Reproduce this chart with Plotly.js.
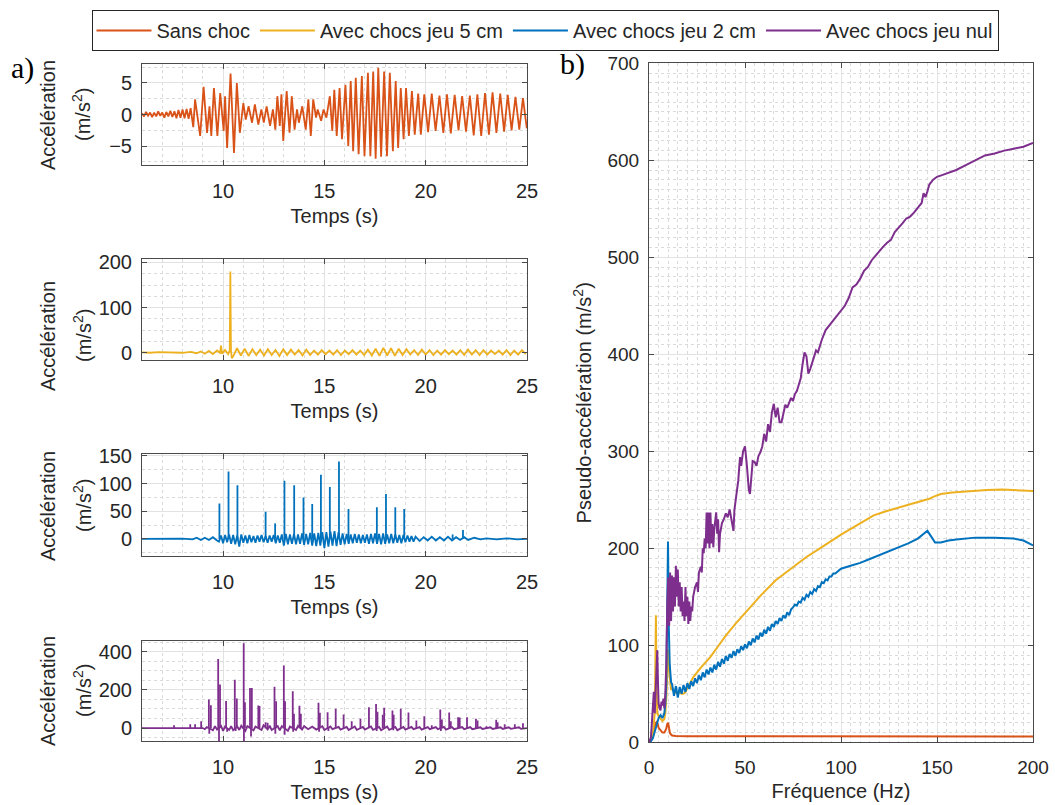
<!DOCTYPE html>
<html><head><meta charset="utf-8">
<script src="https://cdn.plot.ly/plotly-3.0.1.min.js"></script>
<style>html,body{margin:0;padding:0;background:#fff}#chart{width:1055px;height:805px}</style>
</head><body><div id="chart"></div>
<script>
// ---------- legend names / colours ----------
const seriesNames = ['Sans choc','Avec chocs jeu 5 cm','Avec chocs jeu 2 cm','Avec chocs jeu nul'];
const seriesColors = ['#D95319','#EDB120','#0072BD','#7E2F8E'];

// ---------- a) time series, Sans choc ----------
const sansT = [6.0,6.1,6.2,6.3,6.4,6.5,6.6,6.7,6.8,6.9,7.0,7.1,7.2,7.3,7.4,7.5,7.6,7.7,7.8,7.9,8.0,8.1,8.2,8.3,8.4,
 8.53,8.62,8.87,9.04,9.21,9.33,9.42,9.55,9.72,9.86,10.03,10.10,10.20,10.37,10.54,10.68,10.83,11.00,11.12,11.26,
 11.43,11.57,11.74,11.89,12.01,12.15,12.32,12.46,12.58,12.68,12.80,12.88,12.97,13.14,13.28,13.39,13.53,13.65,13.74,13.91,
 14.08,14.21,14.33,14.45,14.59,14.67,14.84,14.96,15.10,15.27,15.39,15.49,15.61,15.75,15.87,16.04,16.18,16.30,16.42,16.55,
 16.69,16.85,16.98,17.15,17.27,17.41,17.53,17.66,17.80,17.95,18.09,18.23,18.38,18.52,18.64,18.77,18.91,19.03,19.17,19.32,
 19.46,19.63,19.76,19.93,20.12,20.30,20.49,20.68,20.87,21.05,21.24,21.43,21.62,21.80,21.99,22.18,22.37,22.55,22.74,22.93,
 23.12,23.30,23.49,23.68,23.87,24.05,24.24,24.43,24.62,24.80,24.99];
const sansV = [0.2,-0.3,0.4,-0.2,0.3,-0.4,0.3,-0.3,0.5,-0.2,0.3,-0.5,0.4,-0.3,0.6,-0.4,0.5,-0.6,0.7,-0.5,0.8,-0.6,0.9,-0.7,1.0,
 -2.0,2.4,-3.4,4.4,-2.9,1.3,-3.4,4.2,-3.4,3.4,-2.6,2.9,-5.3,6.5,-6.1,5.0,-2.9,1.8,-0.8,1.3,
 -1.3,1.6,-1.6,0.8,-1.3,1.3,-1.8,0.8,-2.4,2.9,-1.8,3.2,-4.2,3.7,-2.9,2.9,-2.4,0.8,-1.3,1.3,
 -2.4,2.4,-3.4,2.4,-0.5,0.8,-1.0,0.8,-0.5,2.9,-2.6,3.9,-3.4,4.2,-3.9,4.7,-5.0,5.3,-5.8,5.8,
 -6.3,6.1,-6.6,6.6,-6.6,6.8,-7.0,7.4,-6.7,6.8,-6.6,6.6,-5.8,5.3,-5.3,4.2,-3.9,4.2,-3.4,3.7,
 -3.2,3.3,-3.2,3.2,-2.8,3.3,-2.6,3.0,-2.9,3.2,-3.0,3.1,-2.5,2.9,-2.7,3.0,-3.3,3.2,-3.4,3.4,
 -3.2,3.5,-2.9,3.3,-2.7,3.1,-2.5,2.8,-2.4,2.6,-2.2];

// ---------- a) time series, jeu 5 cm ----------
const j5T = [6.0,6.4,6.8,7.2,7.6,8.0,8.4,8.7,8.9,9.1,9.3,9.5,9.7,9.85,9.9,9.95,10.1,10.25,10.33,10.36,10.39,10.43,
 10.50,10.69,10.88,11.07,11.26,11.45,11.64,11.83,12.02,12.21,
 12.40,12.59,12.78,12.97,13.16,13.35,13.54,13.73,13.92,14.11,
 14.30,14.49,14.68,14.87,15.06,15.25,15.44,15.63,15.82,16.01,
 16.20,16.39,16.58,16.77,16.96,17.15,17.34,17.53,17.72,17.91,
 18.10,18.29,18.48,18.67,18.86,19.05,19.24,19.43,19.62,19.81,
 20.00,20.19,20.38,20.57,20.76,20.95,21.14,21.33,21.52,21.71,
 21.90,22.09,22.28,22.47,22.66,22.85,23.04,23.23,23.42,23.61,
 23.80,23.99,24.18,24.37,24.56,24.75,24.94];
const j5V = [1,0,1.5,0.5,1,0,2,-1,3,-2,4,-3,5,0,16,-2,6,-3,5,180,5,-12,
 -8,10,-6,9,-7,8,-5,7,-6,8,
 -5,6,-7,8,-5,7,-4,6,-6,7,
 -5,5,-4,6,-3,5,-4,6,-5,5,
 -3,6,-4,5,-5,7,-6,9,-7,11,
 -6,10,-7,9,-5,8,-4,6,-5,7,
 -4,6,-5,5,-4,6,-3,5,-4,6,
 -5,7,-4,6,-5,6,-4,5,-3,5,
 -4,6,-5,5,-4,6,-3];

// ---------- a) time series, jeu 2 cm ----------
const j2T = [6.0,7.0,8.0,8.5,8.7,8.9,9.1,9.3,9.5,9.7,
 9.8,9.9,10.0,10.1,10.2,10.3,10.4,10.5,10.6,10.7,
 10.8,10.9,11.0,11.1,11.2,11.3,11.4,11.5,11.6,11.7,
 11.8,11.9,12.0,12.1,12.2,12.3,12.4,12.5,12.6,12.7,
 12.8,12.9,13.0,13.1,13.2,13.3,13.4,13.5,13.6,13.7,
 13.8,13.9,14.0,14.1,14.2,14.3,14.4,14.5,14.6,14.7,
 14.8,14.9,15.0,15.1,15.2,15.3,15.4,15.5,15.6,15.7,
 15.8,15.9,16.0,16.1,16.2,16.3,16.4,16.5,16.6,16.7,
 16.8,16.9,17.0,17.1,17.2,17.3,17.4,17.5,17.6,17.7,
 17.8,17.9,18.0,18.1,18.2,18.3,18.4,18.5,18.6,18.7,
 18.8,18.9,19.0,19.1,19.2,19.3,19.4,19.5,19.7,19.9,
 20.1,20.3,20.5,20.7,20.9,21.1,21.3,21.5,21.7,21.9,
 22.1,22.4,22.7,23.0,23.5,24.0,24.5,25.0];
const j2V = [0,0,0.5,-1,2,-2,2,-2,3,-3,
 -5,6,-8,7,-6,8,-9,7,-10,6,
 -14,8,-7,6,-8,7,-6,5,-7,6,
 -5,7,-6,5,-7,6,-5,7,-8,6,
 -7,8,-12,9,-10,8,-9,9,-10,8,
 -9,10,-11,9,-10,11,-12,10,-13,11,
 -12,12,-17,12,-14,13,-12,14,-13,12,
 -11,10,-10,9,-9,8,-8,9,-7,8,
 -8,7,-7,8,-9,9,-8,10,-9,9,
 -10,10,-9,8,-8,9,-8,8,-7,7,
 -8,7,-6,6,-5,5,-5,4,-4,3,
 -3,4,-3,3,-3,4,-3,3,-2,3,
 -2,2,-1,1,-1,1,-1,0];
const j2SpikeT = [9.82,10.27,10.71,12.10,12.57,13.03,13.51,13.97,14.40,14.83,15.27,15.72,16.19,17.59,18.04,18.50,18.94,21.33,21.84];
const j2SpikeV = [64,122,97,49,28,105,97,75,63,116,94,140,54,57,81,57,54,8,16];

// ---------- a) time series, jeu nul ----------
const j0T = [6.0,7.0,7.5,8.0,8.5,9.0,9.1,9.2,9.5,9.6,
 9.7,9.9,10.0,10.1,10.3,10.4,10.5,10.7,10.8,10.9,
 11.1,11.2,11.5,11.6,11.9,12.0,12.2,12.3,12.4,12.7,
 12.8,12.9,13.2,13.3,13.6,13.7,13.9,14.0,14.2,14.4,
 14.6,14.9,15.0,15.3,15.4,15.7,15.8,16.1,16.2,16.5,
 16.6,16.9,17.0,17.3,17.4,17.7,17.8,18.1,18.2,18.5,
 18.6,18.9,19.0,19.3,19.4,19.7,19.8,20.1,20.2,20.5,
 20.6,20.9,21.0,21.3,21.4,21.8,21.9,22.2,22.3,22.7,
 22.8,23.2,23.3,23.7,23.8,24.1,24.2,24.6,24.7,25.0];
const j0V = [0,0,2,0,2,0,-6,5,-12,10,
 -8,12,-15,8,-10,10,-12,8,-10,12,
 -15,10,-12,8,-10,15,-8,12,-10,10,
 -12,10,-15,8,-10,12,-8,10,-6,8,
 -8,10,-10,8,-6,6,-8,6,-10,8,
 -10,6,-8,8,-10,6,-12,8,-10,6,
 -12,6,-8,6,-6,5,-8,5,-6,5,
 -6,6,-8,5,-6,5,-6,5,-6,4,
 -5,4,-5,4,-5,4,-4,4,-4,0];
const j0SpikeT = [7.58,8.38,8.62,8.92,9.30,9.40,9.76,9.85,10.15,10.58,10.68,11.02,11.08,11.33,11.42,11.74,11.80,12.10,12.20,
 12.54,12.62,13.00,13.06,13.44,13.50,13.77,13.84,14.71,14.78,15.16,15.56,15.95,16.35,16.78,17.20,17.55,17.62,17.88,17.95,
 18.36,18.42,18.77,19.15,19.54,19.93,20.30,20.72,20.80,21.16,21.24,21.60,21.68,22.04,22.48,22.56,23.00,23.48,23.55,23.90,24.40,24.80,
 9.32,9.80,10.20,10.62,11.03,11.38,12.58,13.04,13.46,14.74,15.20,17.58,18.40,20.75];
const j0SpikeV = [15,20,20,36,150,120,362,228,142,253,155,445,135,210,210,118,115,30,28,
 217,140,328,140,193,75,117,75,132,80,83,101,71,35,49,109,126,85,70,106,
 92,70,101,81,40,62,15,97,45,81,35,57,55,57,49,40,10,44,30,20,20,25,
 -30,-75,-20,-15,-75,-45,-30,-35,-20,-20,-15,-15,-12,-15];

// ---------- b) pseudo-acceleration spectra ----------
const redF = [0,1,2,3,3.5,4,4.5,5,6,7,8,9,9.5,10,10.5,11,12,14,20,40,60,80,100,120,140,160,180,200];
const redV = [0,2,8,17,20,21,19,15,12,10,10,14,19,20,14,9,7,6.5,6.3,6.2,6.1,6.1,6.0,6.0,6.0,6.0,6.0,6.0];

const yelF = [0,1,2,3,3.3,3.6,3.9,4.3,5,6, 7,8,8.5,9,9.5,10,10.5,11,11.5,12, 13,14,15,16,17,18,19,20,23,27,
 32,36,40,45,50,58,66,74,82,89, 95,100,106,112,117,123,129,134,140,144, 146,148,152,158,164,169,176,184,192,200];
const yelV = [0,2,8,30,80,131,60,30,27,24, 22,24,30,45,70,96,75,58,54,55, 53,51,52,51,50,50,52,56,67,77,
 88,99,110,122,133,151,167,179,191,200, 208,214,221,228,234,238,241.5,244,247.5,250, 251,253,256,257.5,258.5,259,260,260.5,260,259];

const bluF = [0,1,2,3,4,5,6,7,8,8.5,9,9.5,9.9,10.3,10.8,11.5,
 12,13,14,15,16,17,18,19,20,21, 22,23,24,25,26,27,28,29,30,31, 32,33,34,35,36,37,38,39,40,41,
 42,43,44,45,46,47,48,49,50,51, 52,53,54,55,56,57,58,59,60,61, 62,63,64,65,66,67,68,69,70,71,
 72,73,74,75,76,77,78,79,80,81, 82,83,84,85,86,87,88,89,90,91, 92,93,94,95,96,97,98,99,100,
 105,110,115,120,125,130,135,140,143,145,147,149,152,156,160,170,180,190,195,200];
const bluV = [0,1,4,12,20,25,28,25,30,40,60,140,207,120,80,62,
 60,48,58,46,57,50,59,52,61,55, 63,58,66,61,69,64,72,67,75,70, 77,72,80,75,83,78,86,81,89,84,
 91,87,94,89,96,92,99,95,101,97, 104,100,107,103,110,106,113,109,116,112, 119,115,122,119,125,122,128,125,131,128,
 134,131,137,139,142,141,145,144,149,147, 152,150,155,153,158,156,161,160,165,164, 168,167,171,171,174,174,176,177,179,
 182,185,189,193,197,201,205,210,215,218,212,206,206,208,209,211,211,210,208,203];

const purF = [0,1,1.5,2,2.5,3,3.5,4,4.3,4.7, 5,5.5,6,6.5,7,7.5,8,8.5,9,9.5,
 10,10.5,11,11.5,12,12.5,13,13.5,14,14.5, 15,15.5,16,16.5,17,17.5,18,18.5,19,19.5,
 20,20.5,21,21.5,22,22.5,23,24,25,25.5, 26,27,27.5,28,28.5,29,29.5,30,30.5,31,
 31.5,32,32.5,33,33.5,34,35,35.5,36,36.5, 37,38,39,40,41,42,43,44,44.5,45.5,
 46.5,47.4,48,49,50,51,52,52.6,53.5,54, 55,56,57,58,59,60,61,62,63,64,
 65,66,67,68,69,70,71,72,73,74, 75,76,77,78,79,80,81,82,83,84,
 85,86,87,88,89,90,92,94,96,98, 100,102,104,106,108,110,112,114,116,118,
 120,122,124,126,128,130,132,134,136,138, 140,142,143,144,145,146,148,150,153,156,
 160,165,170,175,180,185,190,195,200];
const purV = [0,5,20,40,52,30,60,85,95,60, 40,35,33,42,38,45,35,50,80,140,
 170,120,175,125,172,135,170,140,182,150, 178,140,165,135,160,130,145,125,160,130,
 150,122,145,125,140,135,150,160,165,155, 175,181,175,200,195,210,200,237,205,237,
 200,237,205,225,201,220,237,215,230,196, 215,226,230,236,232,240,230,218,240,256,
 270,294,285,300,305,285,260,256,275,290, 289,285,295,299,305,318,310,328,320,340,
 349,335,345,330,330,340,348,345,350,355, 352,359,362,370,375,390,402,398,380,385,
 392,398,404,402,410,415,425,430,435,440, 445,450,458,469,472,478,486,490,497,502,
 507,511,515,518,526,530,535,540,542,546, 551,556,566,562,568,575,580,583,585,587,
 590,595,600,605,607,610,612,614,618];

// ---------- layout helpers (pixels -> paper) ----------
const W = 1055, H = 805;
const PX = x => x / W, PY = y => 1 - y / H;
const FONT = 'Liberation Sans, Arial, Helvetica, sans-serif';
const TXT = '#262626';

function spikes(ts, vs) {
  const x = [], y = [];
  ts.forEach((t, i) => { x.push(t, t, null); y.push(0, vs[i], null); });
  return {x, y};
}

const traces = [];
// spectra (carry the legend)
[[redF, redV], [yelF, yelV], [bluF, bluV], [purF, purV]].forEach((s, i) => {
  traces.push({x: s[0], y: s[1], type: 'scatter', mode: 'lines', name: seriesNames[i],
    line: {color: seriesColors[i], width: 2}, xaxis: 'x5', yaxis: 'y5', legendgroup: 'g' + i});
});
// time series
const ts = [[sansT, sansV], [j5T, j5V], [j2T, j2V], [j0T, j0V]];
ts.forEach((s, i) => {
  const ax = i === 0 ? '' : String(i + 1);
  traces.push({x: s[0], y: s[1], type: 'scatter', mode: 'lines', showlegend: false,
    line: {color: seriesColors[i], width: 1.8}, xaxis: 'x' + ax, yaxis: 'y' + ax, legendgroup: 'g' + i});
});
const sp2 = spikes(j2SpikeT, j2SpikeV);
traces.push({x: sp2.x, y: sp2.y, type: 'scatter', mode: 'lines', showlegend: false,
  line: {color: seriesColors[2], width: 1.8}, xaxis: 'x3', yaxis: 'y3'});
const sp0 = spikes(j0SpikeT, j0SpikeV);
traces.push({x: sp0.x, y: sp0.y, type: 'scatter', mode: 'lines', showlegend: false,
  line: {color: seriesColors[3], width: 1.8}, xaxis: 'x4', yaxis: 'y4'});

function axis(extra, fsize) {
  return Object.assign({
    showline: true, linecolor: '#4a4a4a', linewidth: 1, mirror: 'ticks',
    ticks: 'inside', ticklen: 5, tickcolor: '#4a4a4a', tickwidth: 1,
    tickfont: {family: FONT, size: fsize, color: TXT},
    showgrid: true, gridcolor: '#e2e2e2', gridwidth: 1, zeroline: false,
    fixedrange: true
  }, extra);
}
function minor(d) { return {dtick: d, showgrid: true, gridcolor: '#dadada', griddash: 'dot', gridwidth: 1, ticks: ''}; }

const leftX = [PX(142), PX(527)];
const rows = [[64, 165], [259.3, 360], [454.3, 556], [640.7, 741]];
const yRanges = [[-8, 8], [-16, 207], [-31, 153], [-68, 458]];
const yTicks = [[-5, 0, 5], [0, 100, 200], [0, 50, 100, 150], [0, 200, 400]];
const yMinor = [2.5, 25, 25, 50];
const titleY = [115, 336, 506, 691];

const layout = {
  width: W, height: H, margin: {l: 0, r: 0, t: 0, b: 0},
  paper_bgcolor: '#fff', plot_bgcolor: '#fff', hovermode: false,
  font: {family: FONT, color: TXT},
  showlegend: true,
  legend: {orientation: 'h', x: PX(545), xanchor: 'center', y: PY(10), yanchor: 'top',
    bordercolor: '#262626', borderwidth: 1, bgcolor: '#fff',
    font: {family: FONT, size: 20, color: TXT}, itemwidth: 55, tracegroupgap: 0},
  annotations: []
};

rows.forEach((r, i) => {
  const ax = i === 0 ? '' : String(i + 1);
  layout['xaxis' + ax] = axis({domain: leftX, anchor: 'y' + ax, range: [6, 25], tickvals: [10, 15, 20, 25],
    minor: minor(1), ticklabelstandoff: 8,
    title: {text: 'Temps (s)', font: {family: FONT, size: 20, color: TXT}, standoff: 7}}, 20);
  layout['yaxis' + ax] = axis({domain: [PY(r[1]), PY(r[0])], anchor: 'x' + ax, range: yRanges[i],
    tickvals: yTicks[i], minor: minor(yMinor[i]), ticklabelstandoff: 5}, 20);
  layout.annotations.push({xref: 'paper', yref: 'paper', x: PX(48), y: PY(titleY[i]), text: 'Accélération',
    textangle: -90, showarrow: false, xanchor: 'center', yanchor: 'middle', font: {family: FONT, size: 20, color: TXT}});
  layout.annotations.push({xref: 'paper', yref: 'paper', x: PX(82), y: PY(titleY[i]), text: '(m/s<sup>2</sup>)',
    textangle: -90, showarrow: false, xanchor: 'center', yanchor: 'middle', font: {family: FONT, size: 20, color: TXT}});
});

layout.xaxis5 = axis({domain: [PX(649), PX(1033)], anchor: 'y5', range: [0, 200], dtick: 50,
  minor: minor(5), ticklabelstandoff: 8,
  title: {text: 'Fréquence (Hz)', font: {family: FONT, size: 20, color: TXT}, standoff: 6}}, 19);
layout.yaxis5 = axis({domain: [PY(742.3), PY(63.3)], anchor: 'x5', range: [0, 700], dtick: 100,
  minor: minor(10), ticklabelstandoff: 5,
  title: {text: 'Pseudo-accélération (m/s<sup>2</sup>)', font: {family: FONT, size: 20, color: TXT}, standoff: 10}}, 19);

layout.annotations.push({xref: 'paper', yref: 'paper', x: PX(22), y: PY(68), text: 'a)', showarrow: false,
  xanchor: 'center', yanchor: 'middle', font: {family: 'Liberation Serif, Times New Roman, serif', size: 30, color: '#000'}});
layout.annotations.push({xref: 'paper', yref: 'paper', x: PX(573), y: PY(64), text: 'b)', showarrow: false,
  xanchor: 'center', yanchor: 'middle', font: {family: 'Liberation Serif, Times New Roman, serif', size: 30, color: '#000'}});

Plotly.newPlot('chart', traces, layout, {staticPlot: true, displayModeBar: false});
</script></body></html>
